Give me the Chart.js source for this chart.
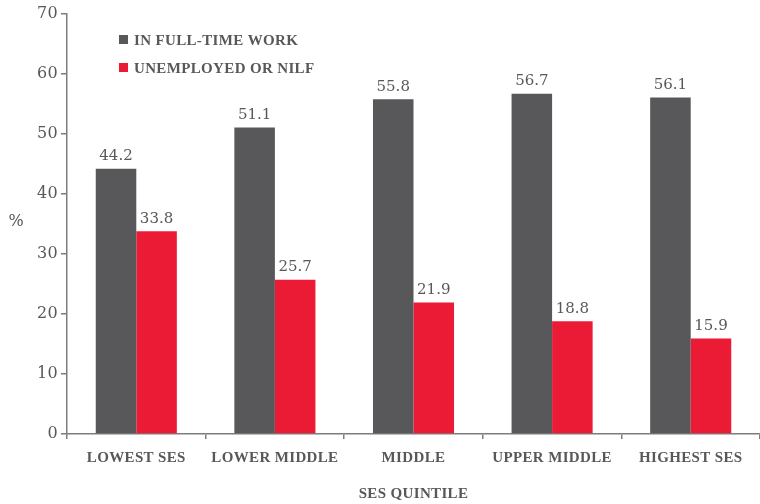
<!DOCTYPE html>
<html>
<head>
<meta charset="utf-8">
<script src="https://cdn.jsdelivr.net/npm/chart.js@4/dist/chart.umd.min.js"></script>
<style>
  html, body { margin: 0; padding: 0; background: #fff; }
  #wrap { width: 760px; height: 504px; }
</style>
</head>
<body>
<div id="wrap"><canvas id="sesChart" width="760" height="504"></canvas></div>
<script>
// Data
const categories = ['LOWEST SES', 'LOWER MIDDLE', 'MIDDLE', 'UPPER MIDDLE', 'HIGHEST SES'];
const fullTimeWork = [44.2, 51.1, 55.8, 56.7, 56.1];
const unemployedNilf = [33.8, 25.7, 21.9, 18.8, 15.9];
const seriesNames = ['IN FULL-TIME WORK', 'UNEMPLOYED OR NILF'];
const yMin = 0;
const yMax = 70;
const yStep = 10;

const GREY = '#58585a';
const RED = '#ec1b35';
const TEXT = '#58585a';
const AXIS = '#7d7d7d';
const SERIF = '"DejaVu Serif", serif';
const BOLD_SERIF = '"Liberation Serif", serif';
const SPACING = '0.35px';

// Slightly spaced-out caps for axis labels, like the original small-caps look
const spacingPlugin = {
  id: 'spacing',
  beforeDraw(chart) {
    chart.ctx.letterSpacing = SPACING;
  },
  beforeLayout(chart) {
    chart.ctx.letterSpacing = SPACING;
  }
};

// Draws value labels, the in-plot legend and the "%" axis label
const extrasPlugin = {
  id: 'extras',
  afterDatasetsDraw(chart) {
    const ctx = chart.ctx;
    ctx.save();

    // value labels above each bar
    ctx.letterSpacing = '0px';
    ctx.font = '15px ' + SERIF;
    ctx.fillStyle = TEXT;
    ctx.textAlign = 'center';
    ctx.textBaseline = 'bottom';
    chart.data.datasets.forEach((ds, i) => {
      const meta = chart.getDatasetMeta(i);
      meta.data.forEach((bar, j) => {
        ctx.fillText(ds.data[j].toFixed(1), bar.x, bar.y - 5);
      });
    });

    // legend, stacked top-left inside the plot
    ctx.letterSpacing = SPACING;
    ctx.font = 'bold 15px ' + BOLD_SERIF;
    ctx.textAlign = 'left';
    ctx.textBaseline = 'middle';
    chart.data.datasets.forEach((ds, i) => {
      const y = 40 + i * 28;
      ctx.fillStyle = ds.backgroundColor;
      ctx.fillRect(119, y - 5, 9, 9);
      ctx.fillStyle = TEXT;
      ctx.fillText(ds.label, 134, y + 1);
    });

    // y-axis label, not rotated
    ctx.letterSpacing = '0px';
    ctx.font = '16px ' + SERIF;
    ctx.textAlign = 'center';
    ctx.fillText('%', 16, 222);

    ctx.restore();
  }
};

new Chart(document.getElementById('sesChart'), {
  type: 'bar',
  data: {
    labels: categories,
    datasets: [
      {
        label: seriesNames[0],
        data: fullTimeWork,
        backgroundColor: GREY,
        borderWidth: 0,
        categoryPercentage: 0.585,
        barPercentage: 1
      },
      {
        label: seriesNames[1],
        data: unemployedNilf,
        backgroundColor: RED,
        borderWidth: 0,
        categoryPercentage: 0.585,
        barPercentage: 1
      }
    ]
  },
  options: {
    responsive: false,
    animation: false,
    layout: {
      padding: { top: 14, right: 0, left: 0, bottom: 0 }
    },
    plugins: {
      legend: { display: false },
      tooltip: { enabled: false }
    },
    scales: {
      x: {
        grid: {
          offset: true,
          drawOnChartArea: false,
          drawTicks: true,
          tickLength: 5,
          color: AXIS,
          lineWidth: 1.5
        },
        border: { display: true, color: AXIS, width: 1.5 },
        ticks: {
          color: TEXT,
          padding: 10,
          maxRotation: 0,
          font: { family: BOLD_SERIF, size: 15, weight: 'bold' }
        },
        title: {
          display: true,
          text: 'SES QUINTILE',
          color: TEXT,
          padding: { top: 0, bottom: 1 },
          font: { family: BOLD_SERIF, size: 15, weight: 'bold' }
        },
        afterFit(scale) {
          scale.height = 70;
        }
      },
      y: {
        min: yMin,
        max: yMax,
        grid: {
          drawOnChartArea: false,
          drawTicks: true,
          tickLength: 6,
          color: AXIS,
          lineWidth: 1.5
        },
        border: { display: true, color: AXIS, width: 1.5 },
        ticks: {
          stepSize: yStep,
          color: TEXT,
          padding: 3,
          font: { family: SERIF, size: 16 }
        },
        afterFit(scale) {
          scale.width = 67;
        }
      }
    }
  },
  plugins: [spacingPlugin, extrasPlugin]
});
</script>
</body>
</html>
